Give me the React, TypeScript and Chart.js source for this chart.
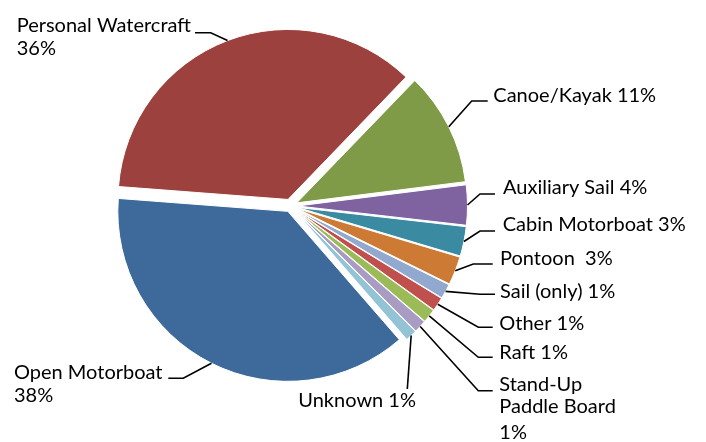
import React, { useEffect, useRef } from 'react';
import { Chart, registerables } from 'chart.js';

Chart.register(...registerables);

// ---- data (clockwise, starting with Open Motorboat) ----
const categories = [
  'Open Motorboat',
  'Personal Watercraft',
  'Canoe/Kayak',
  'Auxiliary Sail',
  'Cabin Motorboat',
  'Pontoon',
  'Sail (only)',
  'Other',
  'Raft',
  'Stand-Up Paddle Board',
  'Unknown',
];
const shares = [37.6, 36.0, 10.8, 3.8, 2.8, 2.7, 1.4, 1.3, 1.3, 1.2, 1.1];
const labelText = [
  ['Open Motorboat', '38%'],
  ['Personal Watercraft', '36%'],
  ['Canoe/Kayak 11%'],
  ['Auxiliary Sail 4%'],
  ['Cabin Motorboat 3%'],
  ['Pontoon  3%'],
  ['Sail (only) 1%'],
  ['Other 1%'],
  ['Raft 1%'],
  ['Stand-Up', 'Paddle Board', '1%'],
  ['Unknown 1%'],
];

// ---- styles / layout ----
const sliceColors = [
  '#3E6A9B', '#9C413E', '#7F9B48', '#7F62A0', '#3A8BA2', '#CD7A35',
  '#92A9CF', '#C0504D', '#9BBB59', '#A99CC3', '#92C4D6',
];
const explode = [6, 7, 7, 7, 7, 7, 7, 7, 7, 7, 7];
// text left x, first baseline y, line steps
const textPos: [number, number, number[]][] = [
  [14, 379, [23.3]],
  [16.7, 31.7, [23.3]],
  [493.3, 102.3, []],
  [503, 194, []],
  [502.7, 231, []],
  [500, 265, []],
  [500, 298.3, []],
  [499.3, 330, []],
  [499.3, 359.3, []],
  [499.3, 390.7, [22.7, 26]],
  [298.3, 407.3, []],
];
// leader: elbow point (or null) then end point
const leaders: ([number, number] | null)[][] = [
  [[183.3, 378.3], [168.3, 378.3]],
  [[210.7, 32.7], [195, 32.7]],
  [[471.7, 101], [487.7, 101]],
  [[480, 194], [495, 194]],
  [[480, 231], [495, 231]],
  [[473.3, 264], [492.7, 264]],
  [[480, 294.3], [495, 294.3]],
  [[478.3, 327.3], [492.7, 327.3]],
  [[478.3, 357.3], [492.7, 357.3]],
  [[478.3, 390.7], [492.7, 390.7]],
  [null, [407.3, 389]],
];

const explodePlugin = {
  id: 'explodeSlices',
  beforeDatasetDraw(chart: any, args: any) {
    const ctx = chart.ctx;
    args.meta.data.forEach((arc: any, i: number) => {
      const mid = (arc.startAngle + arc.endAngle) / 2;
      const d = explode[i] || 0;
      ctx.save();
      ctx.translate(Math.cos(mid) * d, Math.sin(mid) * d);
      arc.draw(ctx);
      ctx.restore();
    });
    return false;
  },
};

const labelPlugin = {
  id: 'sliceLabels',
  afterDatasetsDraw(chart: any) {
    const ctx = chart.ctx;
    const meta = chart.getDatasetMeta(0);
    ctx.save();
    ctx.strokeStyle = '#000';
    ctx.lineWidth = 1.6;
    ctx.lineJoin = 'miter';
    meta.data.forEach((arc: any, i: number) => {
      const mid = (arc.startAngle + arc.endAngle) / 2;
      const r = arc.outerRadius + (explode[i] || 0);
      const ax = arc.x + Math.cos(mid) * r;
      const ay = arc.y + Math.sin(mid) * r;
      ctx.beginPath();
      ctx.moveTo(ax, ay);
      leaders[i].forEach((p) => {
        if (p) ctx.lineTo(p[0], p[1]);
      });
      ctx.stroke();
    });
    ctx.fillStyle = '#000';
    ctx.font = '20px Lato';
    ctx.textAlign = 'left';
    ctx.textBaseline = 'alphabetic';
    labelText.forEach((lines, i) => {
      const [x, y0, steps] = textPos[i];
      let y = y0;
      lines.forEach((line, j) => {
        if (j > 0) y += steps[j - 1];
        ctx.fillText(line, x, y);
      });
    });
    ctx.restore();
  },
};

export default function App() {
  const canvasRef = useRef<HTMLCanvasElement | null>(null);

  useEffect(() => {
    if (!canvasRef.current) return;
    const chart = new Chart(canvasRef.current, {
      type: 'pie',
      data: {
        labels: categories,
        datasets: [
          {
            data: shares,
            backgroundColor: sliceColors,
            borderColor: '#ffffff',
            borderWidth: 1,
            radius: 170,
            rotation: 139,
          } as any,
        ],
      },
      options: {
        animation: false,
        responsive: true,
        maintainAspectRatio: false,
        layout: { padding: { left: 0, right: 125, top: 0, bottom: 30 } },
        plugins: {
          legend: { display: false },
          tooltip: { enabled: false },
          title: { display: false },
        },
        events: [],
      },
      plugins: [explodePlugin, labelPlugin],
    });
    return () => chart.destroy();
  }, []);

  return (
    <div style={{ position: 'absolute', left: 0, top: 0, width: 706, height: 442, background: '#fff' }}>
      <canvas ref={canvasRef} />
    </div>
  );
}
